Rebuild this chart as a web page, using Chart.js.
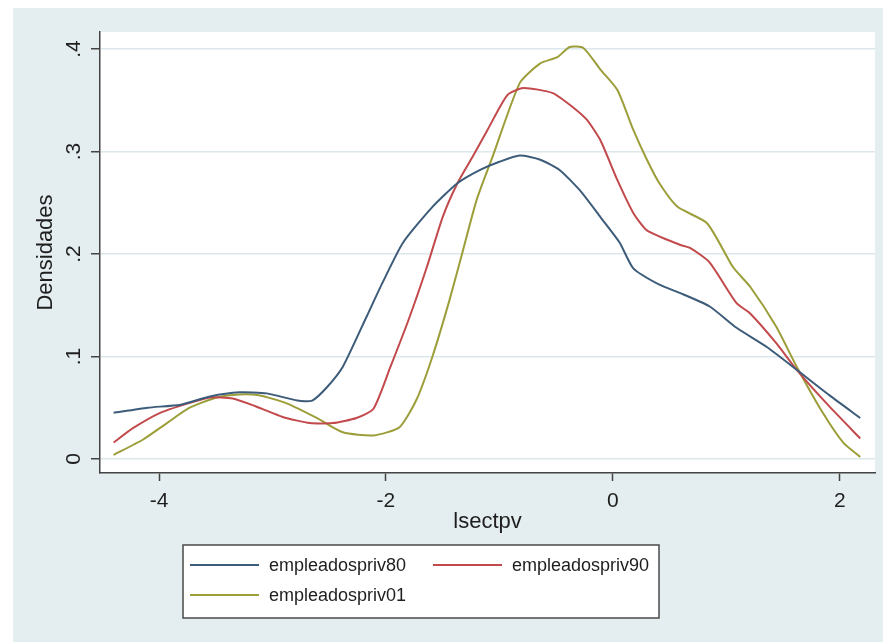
<!DOCTYPE html>
<html>
<head>
<meta charset="utf-8">
<script src="https://cdn.jsdelivr.net/npm/chart.js@4"></script>
<style>
  html, body { margin: 0; padding: 0; background: #fff; }
  canvas { display: block; }
</style>
</head>
<body>
<canvas id="densChart" width="884" height="642"></canvas>
<script>
// series (lsectpv vs kernel density)
const x80 = [-4.40, -4.10, -3.81, -3.55, -3.29, -3.05, -2.78, -2.65, -2.52, -2.38, -2.17, -2.03, -1.85, -1.59, -1.37, -1.17, -1.00, -0.82, -0.64, -0.47, -0.29, -0.11, 0.06, 0.18, 0.41, 0.59, 0.85, 1.09, 1.36, 1.62, 1.91, 2.18];
const y80 = [0.045, 0.050, 0.053, 0.061, 0.065, 0.064, 0.057, 0.057, 0.070, 0.090, 0.139, 0.172, 0.211, 0.246, 0.269, 0.282, 0.290, 0.296, 0.292, 0.282, 0.262, 0.236, 0.211, 0.186, 0.170, 0.162, 0.149, 0.128, 0.109, 0.087, 0.062, 0.040];

const x90 = [-4.40, -4.23, -3.99, -3.75, -3.55, -3.35, -3.14, -2.91, -2.67, -2.47, -2.26, -2.11, -1.96, -1.79, -1.64, -1.50, -1.37, -1.23, -1.11, -0.93, -0.79, -0.53, -0.35, -0.23, -0.11, 0.04, 0.18, 0.30, 0.59, 0.68, 0.85, 1.09, 1.21, 1.44, 1.62, 1.91, 2.18];
const y90 = [0.016, 0.030, 0.045, 0.054, 0.060, 0.059, 0.051, 0.041, 0.035, 0.035, 0.040, 0.049, 0.090, 0.139, 0.187, 0.236, 0.269, 0.296, 0.320, 0.355, 0.362, 0.357, 0.343, 0.331, 0.311, 0.272, 0.240, 0.223, 0.209, 0.206, 0.192, 0.152, 0.142, 0.113, 0.087, 0.051, 0.020];

const x01 = [-4.40, -4.14, -3.93, -3.73, -3.49, -3.29, -3.11, -2.87, -2.61, -2.38, -2.11, -1.88, -1.73, -1.59, -1.44, -1.32, -1.20, -1.06, -0.82, -0.64, -0.49, -0.38, -0.26, -0.11, 0.04, 0.18, 0.30, 0.41, 0.57, 0.83, 1.06, 1.21, 1.44, 1.62, 1.85, 2.03, 2.18];
const y01 = [0.004, 0.019, 0.035, 0.050, 0.060, 0.063, 0.062, 0.054, 0.040, 0.026, 0.023, 0.031, 0.058, 0.100, 0.155, 0.204, 0.253, 0.295, 0.367, 0.386, 0.392, 0.402, 0.401, 0.380, 0.360, 0.321, 0.292, 0.269, 0.246, 0.230, 0.187, 0.168, 0.129, 0.090, 0.045, 0.016, 0.002];

const seriesNames = ['empleadospriv80', 'empleadospriv90', 'empleadospriv01'];
const xTicks = [-4, -2, 0, 2];
const xTickLabels = ['-4', '-2', '0', '2'];
const yTicks = [0, 0.1, 0.2, 0.3, 0.4];
const yTickLabels = ['0', '.1', '.2', '.3', '.4'];

const FONT = "'Liberation Sans', Arial, sans-serif";
Chart.defaults.font.family = FONT;

const pts = (xs, ys) => xs.map((x, i) => ({ x: x, y: ys[i] }));

// gray outer frame + white plot region
const backdrop = {
  id: 'backdrop',
  beforeDraw(chart) {
    const ctx = chart.ctx;
    const a = chart.chartArea;
    ctx.save();
    ctx.fillStyle = '#ffffff';
    ctx.fillRect(0, 0, chart.width, chart.height);
    ctx.fillStyle = '#e4edef';
    ctx.fillRect(13, 8, 870, 634);
    ctx.fillStyle = '#ffffff';
    ctx.fillRect(a.left, a.top, a.right - a.left, a.bottom - a.top);
    ctx.restore();
  }
};

// boxed legend below the axis title, two columns
const boxLegend = {
  id: 'boxLegend',
  afterDraw(chart) {
    const ctx = chart.ctx;
    const box = { x: 183, y: 545, w: 476, h: 73 };
    const slots = [[190, 565], [433, 565], [190, 595]];
    ctx.save();
    ctx.fillStyle = '#ffffff';
    ctx.fillRect(box.x, box.y, box.w, box.h);
    ctx.strokeStyle = '#4a4a4a';
    ctx.lineWidth = 1.5;
    ctx.strokeRect(box.x, box.y, box.w, box.h);
    ctx.font = '18px ' + FONT;
    ctx.textBaseline = 'middle';
    ctx.textAlign = 'left';
    chart.data.datasets.forEach((ds, i) => {
      const [lx, ly] = slots[i];
      ctx.strokeStyle = ds.borderColor;
      ctx.lineWidth = 2;
      ctx.beginPath();
      ctx.moveTo(lx, ly);
      ctx.lineTo(lx + 69, ly);
      ctx.stroke();
      ctx.fillStyle = '#1e1e1e';
      ctx.fillText(ds.label, lx + 79, ly + 1);
    });
    ctx.restore();
  }
};

const ctx = document.getElementById('densChart').getContext('2d');
new Chart(ctx, {
  type: 'line',
  data: {
    datasets: [
      { label: seriesNames[0], data: pts(x80, y80), borderColor: '#3d5c79' },
      { label: seriesNames[1], data: pts(x90, y90), borderColor: '#c24a4c' },
      { label: seriesNames[2], data: pts(x01, y01), borderColor: '#9c9e3a' }
    ].map(d => Object.assign(d, {
      borderWidth: 2,
      pointRadius: 0,
      fill: false,
      tension: 0.2
    }))
  },
  options: {
    responsive: false,
    animation: false,
    layout: { padding: { left: 12, top: 32, right: 9, bottom: 0 } },
    plugins: {
      legend: { display: false },
      tooltip: { enabled: false }
    },
    scales: {
      x: {
        type: 'linear',
        min: -4.52,
        max: 2.31,
        afterBuildTicks: s => { s.ticks = xTicks.map(v => ({ value: v })); },
        afterFit: s => { s.height = 169; },
        grid: { drawOnChartArea: false, tickColor: '#444', tickLength: 8, tickWidth: 1.5 },
        border: { color: '#444', width: 1.5 },
        ticks: {
          padding: 8, maxRotation: 0, color: '#1e1e1e',
          font: { size: 21 },
          callback: (v, i) => xTickLabels[i]
        },
        title: {
          display: true, text: 'lsectpv', color: '#1e1e1e',
          font: { size: 22 },
          padding: { top: 0, bottom: 107 }
        }
      },
      y: {
        type: 'linear',
        min: -0.0137,
        max: 0.4166,
        afterBuildTicks: s => { s.ticks = yTicks.map(v => ({ value: v })); },
        afterFit: s => { s.width = 88; },
        grid: { color: '#dce8eb', lineWidth: 1.5, tickColor: '#444', tickLength: 9, tickWidth: 1.5 },
        border: { color: '#444', width: 1.5 },
        ticks: {
          minRotation: 90, maxRotation: 90, crossAlign: 'center',
          padding: 8, color: '#1e1e1e',
          font: { size: 21 },
          callback: (v, i) => yTickLabels[i]
        },
        title: {
          display: true, text: 'Densidades', color: '#1e1e1e',
          font: { size: 22 },
          padding: { top: 21, bottom: 0 }
        }
      }
    }
  },
  plugins: [backdrop, boxLegend]
});
</script>
</body>
</html>
